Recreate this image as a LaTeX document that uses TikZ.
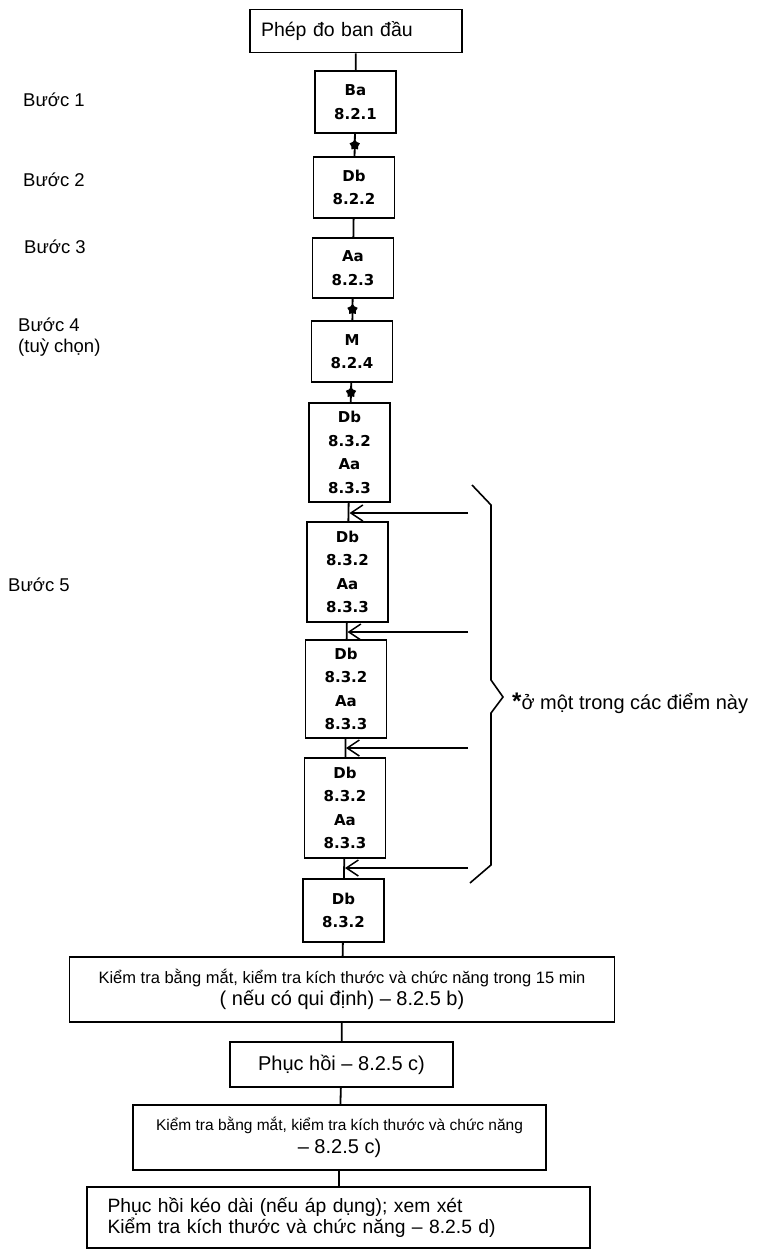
\documentclass[tikz,border=0pt]{standalone}
\usepackage{fontspec}
\setmainfont{Liberation Sans}
\newfontfamily\stepfont{DejaVu Sans}
\usetikzlibrary{shapes.geometric, arrows.meta, positioning}

\begin{document}
\begin{tikzpicture}[x=1pt,y=-1pt,
  box/.style={draw, line width=1.6pt, inner sep=2pt, align=center},
  stepbox/.style={box, minimum width=81pt, font=\stepfont\bfseries\fontsize{15}{23.5}\selectfont},
  conn/.style={line width=1.8pt},
  starmark/.style={star, star points=5, fill=black, inner sep=0pt, minimum size=11pt},
  feed/.style={line width=1.5pt, -{Straight Barb[length=12pt,width=16pt,line width=1.5pt]}},
  lbl/.style={font=\fontsize{18.5}{21}\selectfont, anchor=west, align=left, inner sep=0pt}]
  \path[use as bounding box] (0,0) rectangle (761,1253);
  \fill[white] (0,0) rectangle (761,1253);

  % left labels
  \node[lbl] (b1) at (23,100) {Bước 1};
  \node[lbl] (b2) at (23,180) {Bước 2};
  \node[lbl] (b3) at (24,247) {Bước 3};
  \node[lbl] (b4) at (18,337) {Bước 4\\(tuỳ chọn)};
  \node[lbl] (b5) at (8,585) {Bước 5};

  % main column
  \node[box, minimum width=212pt, minimum height=43pt, align=left, text width=190pt,
        font=\fontsize{19.5}{22}\selectfont] (init) at (356,31) {Phép đo ban đầu};
  \node[stepbox, minimum height=62pt] (ba) at (355.5,102) {Ba\\8.2.1};
  \node[stepbox, minimum height=61pt] (db1) at (354,187.5) {Db\\8.2.2};
  \node[stepbox, minimum height=60pt] (aa) at (353,268) {Aa\\8.2.3};
  \node[stepbox, minimum height=61pt] (m) at (352,351.5) {M\\8.2.4};
  \node[stepbox, minimum height=99pt] (c1) at (349.5,452.5) {Db\\8.3.2\\Aa\\8.3.3};
  \node[stepbox, minimum height=100pt] (c2) at (347.5,572) {Db\\8.3.2\\Aa\\8.3.3};
  \node[stepbox, minimum height=98pt] (c3) at (346,689) {Db\\8.3.2\\Aa\\8.3.3};
  \node[stepbox, minimum height=100pt] (c4) at (345,808) {Db\\8.3.2\\Aa\\8.3.3};
  \node[stepbox, minimum height=63pt] (db2) at (343.5,910.5) {Db\\8.3.2};

  \node[box, minimum width=545pt, minimum height=65pt, font=\fontsize{16.5}{22.5}\selectfont] (kta) at (342,989.5)
    {Kiểm tra bằng mắt, kiểm tra kích thước và chức năng trong 15 min\\{\fontsize{20}{22}\selectfont ( nếu có qui định) – 8.2.5 b)}};
  \node[box, minimum width=223pt, minimum height=45pt, font=\fontsize{20}{22}\selectfont] (ph) at (341.5,1064.5)
    {Phục hồi – 8.2.5 c)};
  \node[box, minimum width=413pt, minimum height=65pt, font=\fontsize{15.5}{22.5}\selectfont] (ktb) at (339.5,1137.5)
    {Kiểm tra bằng mắt, kiểm tra kích thước và chức năng\\{\fontsize{20}{22}\selectfont – 8.2.5 c)}};
  \node[box, minimum width=503pt, minimum height=61pt, align=left, text width=462pt,
        font=\fontsize{19.3}{21.5}\selectfont] (phk) at (338.5,1217.5)
    {Phục hồi kéo dài (nếu áp dụng); xem xét\\Kiểm tra kích thước và chức năng – 8.2.5 d)};

  % connectors
  \draw[conn] (init) -- (ba);
  \draw[conn] (ba) -- node[starmark] (s1) {} (db1);
  \draw[conn] (db1) -- (aa);
  \draw[conn] (aa) -- node[starmark] (s2) {} (m);
  \draw[conn] (m) -- node[starmark] (s3) {} (c1);
  \draw[conn] (c1) -- (c2);
  \draw[conn] (c2) -- (c3);
  \draw[conn] (c3) -- (c4);
  \draw[conn] (c4) -- (db2);
  \draw[conn] (db2) -- (kta);
  \draw[conn] (kta) -- (ph);
  \draw[conn] (ph) -- (ktb);
  \draw[conn] (ktb) -- (phk);

  % insertion points
  \coordinate (r1) at (468,513);
  \coordinate (r2) at (468,632);
  \coordinate (r3) at (468,748);
  \coordinate (r4) at (468,868);
  \draw[feed] (r1) -- (r1 -| c1.south);
  \draw[feed] (r2) -- (r2 -| c2.south);
  \draw[feed] (r3) -- (r3 -| c3.south);
  \draw[feed] (r4) -- (r4 -| c4.south);

  % brace
  \draw[line width=1.6pt] (472,485) -- (491,505) -- (491,680) -- (503,697) -- (491,713) -- (491,865) -- (470,883);
  \node[anchor=west, inner sep=0pt, font=\fontsize{20}{22}\selectfont] (note) at (512,703)
    {{\bfseries\fontsize{24}{24}\selectfont *}ở một trong các điểm này};
\end{tikzpicture}
\end{document}
